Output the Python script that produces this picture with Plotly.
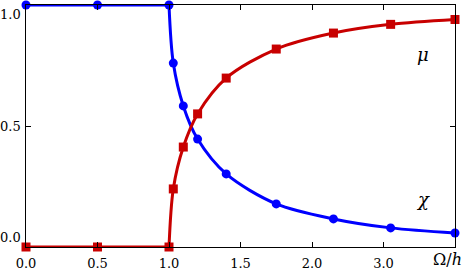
import plotly.graph_objects as go

# Omega/h values (the axis is compressed above 2.0)
omega = [0.0, 0.5, 1.0, 1.03, 1.1, 1.2, 1.4, 1.75, 2.3, 3.1, 4.0]
chi = [1.0, 1.0, 1.0, 0.76, 0.583, 0.446, 0.302, 0.178, 0.116, 0.079, 0.058]
mu = [0.0, 0.0, 0.0, 0.24, 0.413, 0.55, 0.698, 0.818, 0.884, 0.92, 0.94]

x_ticks = [0.0, 0.5, 1.0, 1.5, 2.0, 3.0]
x_tick_labels = ["0.0", "0.5", "1.0", "1.5", "2.0", "3.0"]
y_ticks = [0.0, 0.5, 1.0]
y_tick_labels = ["0.0", "0.5", "1.0"]


def axis_pos(w):
    # broken scale: linear up to 2, half scale beyond
    return w if w <= 2 else 2 + (w - 2) / 2


xs = [axis_pos(w) for w in omega]
FONT = "DejaVu Serif"
BLUE = "#0000ff"
RED = "#c80000"
KINK = 2  # index where the flat part ends

fig = go.Figure()
for vals, col, sym in [(chi, BLUE, "circle"), (mu, RED, "square")]:
    # flat part before the transition
    fig.add_trace(go.Scatter(
        x=xs[:KINK + 1], y=vals[:KINK + 1], mode="lines",
        line=dict(color=col, width=3), cliponaxis=False, showlegend=False))
    # smooth part after the transition
    fig.add_trace(go.Scatter(
        x=xs[KINK:], y=vals[KINK:], mode="lines",
        line=dict(color=col, width=3, shape="spline", smoothing=0.9),
        cliponaxis=False, showlegend=False))
    fig.add_trace(go.Scatter(
        x=xs, y=vals, mode="markers",
        marker=dict(symbol=sym, size=9, color=col),
        cliponaxis=False, showlegend=False))

fig.update_xaxes(
    range=[0, 3], tickvals=[axis_pos(v) for v in x_ticks], ticktext=x_tick_labels,
    ticks="inside", ticklen=5, tickwidth=1, tickcolor="black",
    showline=True, linecolor="black", linewidth=1, mirror="allticks",
    showgrid=False, zeroline=False, automargin=False, ticklabelstandoff=4,
    tickfont=dict(family=FONT, size=13, color="black"))
fig.update_yaxes(
    range=[0, 1], tickvals=y_ticks, ticktext=["", "", ""],
    ticks="inside", ticklen=5, tickwidth=1, tickcolor="black",
    showline=True, linecolor="black", linewidth=1, mirror="allticks",
    showgrid=False, zeroline=False, automargin=False,
    tickfont=dict(family=FONT, size=13, color="black"))

# y tick labels placed like the reference (ends pulled inward)
for v, lab in zip(y_ticks, y_tick_labels):
    anchor = "top" if v == 1.0 else ("bottom" if v == 0.0 else "middle")
    fig.add_annotation(x=0, y=v, xref="paper", yref="y", xanchor="right", yanchor=anchor,
                       xshift=-3, yshift=0, text=lab, showarrow=False,
                       font=dict(family=FONT, size=13, color="black"))

fig.add_annotation(x=1, y=0, xref="paper", yref="paper", xanchor="right", yanchor="top",
                   xshift=9, yshift=-1, text="Ω/<i>h</i>", showarrow=False,
                   font=dict(family=FONT, size=16, color="black"))
fig.add_annotation(x=(431 - 26) / 429, y=(247 - 42) / 242, xref="x domain", yref="y domain",
                   showarrow=False, text="<i>μ</i>",
                   font=dict(family=FONT, size=18, color="black"))
fig.add_annotation(x=(432 - 26) / 429, y=(247 - 212) / 242, xref="x domain", yref="y domain",
                   showarrow=False, text="<i>χ</i>",
                   font=dict(family=FONT, size=18, color="black"))

fig.update_layout(
    width=463, height=273, margin=dict(l=26, r=8, t=5, b=26),
    paper_bgcolor="white", plot_bgcolor="white")

fig.write_html("out.html", config={"displayModeBar": False},
               post_script="document.body.style.margin='0';")
